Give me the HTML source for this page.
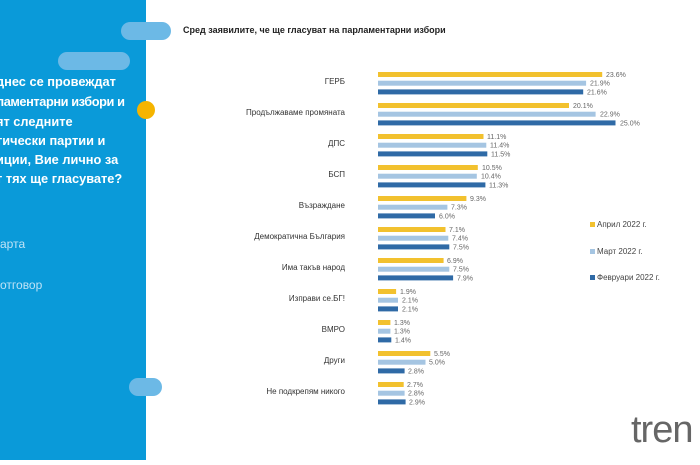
<!DOCTYPE html>
<html><head><meta charset="utf-8"><style>
body{margin:0;width:700px;height:460px;overflow:hidden;background:#fff;font-family:"Liberation Sans",sans-serif}
</style></head><body>
<svg width="700" height="460" xmlns="http://www.w3.org/2000/svg" font-family="Liberation Sans, sans-serif">
<rect x="0" y="0" width="146" height="460" fill="#0a9ad9"/>
<rect x="58" y="52" width="72" height="18" rx="9" fill="#6cb9e6"/>
<rect x="121" y="22" width="50" height="18" rx="9" fill="#6cb9e6"/>
<circle cx="146" cy="110" r="9" fill="#f5b400"/>
<rect x="129" y="378" width="33" height="18" rx="9" fill="#6cb9e6"/>
<g fill="#fff" font-weight="bold" font-size="12.8">
<text x="-4" y="86">днес се провеждат</text>
<text x="-4" y="106" textLength="129">ламентарни избори и</text>
<text x="-4" y="126">ят следните</text>
<text x="-4" y="145">тически партии и</text>
<text x="-4" y="164">иции, Вие лично за</text>
<text x="-4" y="183">т тях ще гласувате?</text>
</g>
<g fill="#bfe3f6" font-size="12"><text x="0" y="248">арта</text><text x="0" y="289">отговор</text></g>
<text x="183" y="33" font-size="9" font-weight="bold" fill="#222">Сред заявилите, че ще гласуват на парламентарни избори</text>

<g font-size="7" fill="#666">
<g transform="translate(0,72)"><text x="345" y="12" text-anchor="end" font-size="8" fill="#333">ГЕРБ</text>
<rect x="378" y="0" width="224.2" height="5" fill="#f2c12e"/><text x="606" y="5">23.6%</text>
<rect x="378" y="8.7" width="208.1" height="5" fill="#a5c5e2"/><text x="590" y="13.7">21.9%</text>
<rect x="378" y="17.4" width="205.2" height="5" fill="#2f6aa6"/><text x="587" y="22.4">21.6%</text></g>
<g transform="translate(0,103)"><text x="345" y="12" text-anchor="end" font-size="8" fill="#333">Продължаваме промяната</text>
<rect x="378" y="0" width="191" height="5" fill="#f2c12e"/><text x="573" y="5">20.1%</text>
<rect x="378" y="8.7" width="217.6" height="5" fill="#a5c5e2"/><text x="600" y="13.7">22.9%</text>
<rect x="378" y="17.4" width="237.5" height="5" fill="#2f6aa6"/><text x="620" y="22.4">25.0%</text></g>
<g transform="translate(0,134)"><text x="345" y="12" text-anchor="end" font-size="8" fill="#333">ДПС</text>
<rect x="378" y="0" width="105.5" height="5" fill="#f2c12e"/><text x="487" y="5">11.1%</text>
<rect x="378" y="8.7" width="108.3" height="5" fill="#a5c5e2"/><text x="490" y="13.7">11.4%</text>
<rect x="378" y="17.4" width="109.3" height="5" fill="#2f6aa6"/><text x="491" y="22.4">11.5%</text></g>
<g transform="translate(0,165)"><text x="345" y="12" text-anchor="end" font-size="8" fill="#333">БСП</text>
<rect x="378" y="0" width="99.8" height="5" fill="#f2c12e"/><text x="482" y="5">10.5%</text>
<rect x="378" y="8.7" width="98.8" height="5" fill="#a5c5e2"/><text x="481" y="13.7">10.4%</text>
<rect x="378" y="17.4" width="107.4" height="5" fill="#2f6aa6"/><text x="489" y="22.4">11.3%</text></g>
<g transform="translate(0,196)"><text x="345" y="12" text-anchor="end" font-size="8" fill="#333">Възраждане</text>
<rect x="378" y="0" width="88.4" height="5" fill="#f2c12e"/><text x="470" y="5">9.3%</text>
<rect x="378" y="8.7" width="69.4" height="5" fill="#a5c5e2"/><text x="451" y="13.7">7.3%</text>
<rect x="378" y="17.4" width="57" height="5" fill="#2f6aa6"/><text x="439" y="22.4">6.0%</text></g>
<g transform="translate(0,227)"><text x="345" y="12" text-anchor="end" font-size="8" fill="#333">Демократична България</text>
<rect x="378" y="0" width="67.5" height="5" fill="#f2c12e"/><text x="449" y="5">7.1%</text>
<rect x="378" y="8.7" width="70.3" height="5" fill="#a5c5e2"/><text x="452" y="13.7">7.4%</text>
<rect x="378" y="17.4" width="71.3" height="5" fill="#2f6aa6"/><text x="453" y="22.4">7.5%</text></g>
<g transform="translate(0,258)"><text x="345" y="12" text-anchor="end" font-size="8" fill="#333">Има такъв народ</text>
<rect x="378" y="0" width="65.6" height="5" fill="#f2c12e"/><text x="447" y="5">6.9%</text>
<rect x="378" y="8.7" width="71.3" height="5" fill="#a5c5e2"/><text x="453" y="13.7">7.5%</text>
<rect x="378" y="17.4" width="75.1" height="5" fill="#2f6aa6"/><text x="457" y="22.4">7.9%</text></g>
<g transform="translate(0,289)"><text x="345" y="12" text-anchor="end" font-size="8" fill="#333">Изправи се.БГ!</text>
<rect x="378" y="0" width="18.1" height="5" fill="#f2c12e"/><text x="400" y="5">1.9%</text>
<rect x="378" y="8.7" width="20" height="5" fill="#a5c5e2"/><text x="402" y="13.7">2.1%</text>
<rect x="378" y="17.4" width="20" height="5" fill="#2f6aa6"/><text x="402" y="22.4">2.1%</text></g>
<g transform="translate(0,320)"><text x="345" y="12" text-anchor="end" font-size="8" fill="#333">ВМРО</text>
<rect x="378" y="0" width="12.4" height="5" fill="#f2c12e"/><text x="394" y="5">1.3%</text>
<rect x="378" y="8.7" width="12.4" height="5" fill="#a5c5e2"/><text x="394" y="13.7">1.3%</text>
<rect x="378" y="17.4" width="13.3" height="5" fill="#2f6aa6"/><text x="395" y="22.4">1.4%</text></g>
<g transform="translate(0,351)"><text x="345" y="12" text-anchor="end" font-size="8" fill="#333">Други</text>
<rect x="378" y="0" width="52.3" height="5" fill="#f2c12e"/><text x="434" y="5">5.5%</text>
<rect x="378" y="8.7" width="47.5" height="5" fill="#a5c5e2"/><text x="429" y="13.7">5.0%</text>
<rect x="378" y="17.4" width="26.6" height="5" fill="#2f6aa6"/><text x="408" y="22.4">2.8%</text></g>
<g transform="translate(0,382)"><text x="345" y="12" text-anchor="end" font-size="8" fill="#333">Не подкрепям никого</text>
<rect x="378" y="0" width="25.7" height="5" fill="#f2c12e"/><text x="407" y="5">2.7%</text>
<rect x="378" y="8.7" width="26.6" height="5" fill="#a5c5e2"/><text x="408" y="13.7">2.8%</text>
<rect x="378" y="17.4" width="27.6" height="5" fill="#2f6aa6"/><text x="409" y="22.4">2.9%</text></g>
</g>

<g font-size="8" fill="#444">
<rect x="590" y="222" width="5" height="5" fill="#f2c12e"/><text x="597" y="227">Април 2022 г.</text>
<rect x="590" y="249" width="5" height="5" fill="#a5c5e2"/><text x="597" y="254">Март 2022 г.</text>
<rect x="590" y="275" width="5" height="5" fill="#2f6aa6"/><text x="597" y="280">Февруари 2022 г.</text>
</g>
<text x="631" y="442" font-size="38" fill="#666" letter-spacing="-1">tren</text>
</svg>
</body></html>
